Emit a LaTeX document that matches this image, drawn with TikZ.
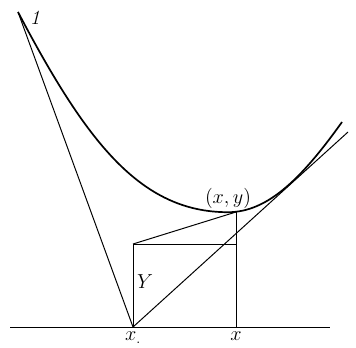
\documentclass[tikz,border=0pt]{standalone}
\usetikzlibrary{positioning}
\begin{document}
\begin{tikzpicture}[line width=0.7pt, font=\Large]

\useasboundingbox (0,0) rectangle (8.9,8.675);
\def \Ax{3.325}
\def \Px{5.9}
\def \Base{0.5}

\coordinate (xzero) at (\Ax,\Base);
\coordinate (xfoot) at (\Px,\Base);
\coordinate (axl) at (0.25,\Base);
\coordinate (axr) at (8.25,\Base);
\coordinate (ptop) at (\Px,3.375);
\coordinate (rtl) at (\Ax,2.575);
\coordinate (rtr) at (\Px,2.575);
\coordinate (cstart) at (0.45,8.375);
\coordinate (cmin) at (5.7,3.37);
\coordinate (cend) at (8.55,5.625);
\coordinate (tend) at (8.7,5.375);

\draw (axl) -- (axr);
\draw[line width=1.2pt] (cstart) .. controls (2.15,5.145) and (3.5,3.37) .. (cmin)
  .. controls (6.7,3.37) and (7.55,4.225) .. (cend);
\draw (cstart) -- (xzero);
\draw (xzero) -- (tend);
\draw (xzero) -- (rtl) -- (rtr);
\draw (rtl) -- (ptop);
\draw (xfoot) -- (ptop);

\node (lone) at (0.875,8.225) {\textit{1}};
\node[above=-1pt of ptop, xshift=-2mm] (lxy) {$(x,y)$};
\node[below=0pt of xzero] (lxz) {$x_{.}$};
\node[below=0pt of xfoot] (lx) {$x$};
\node (lY) at (3.625,1.625) {$Y$};

\end{tikzpicture}
\end{document}
